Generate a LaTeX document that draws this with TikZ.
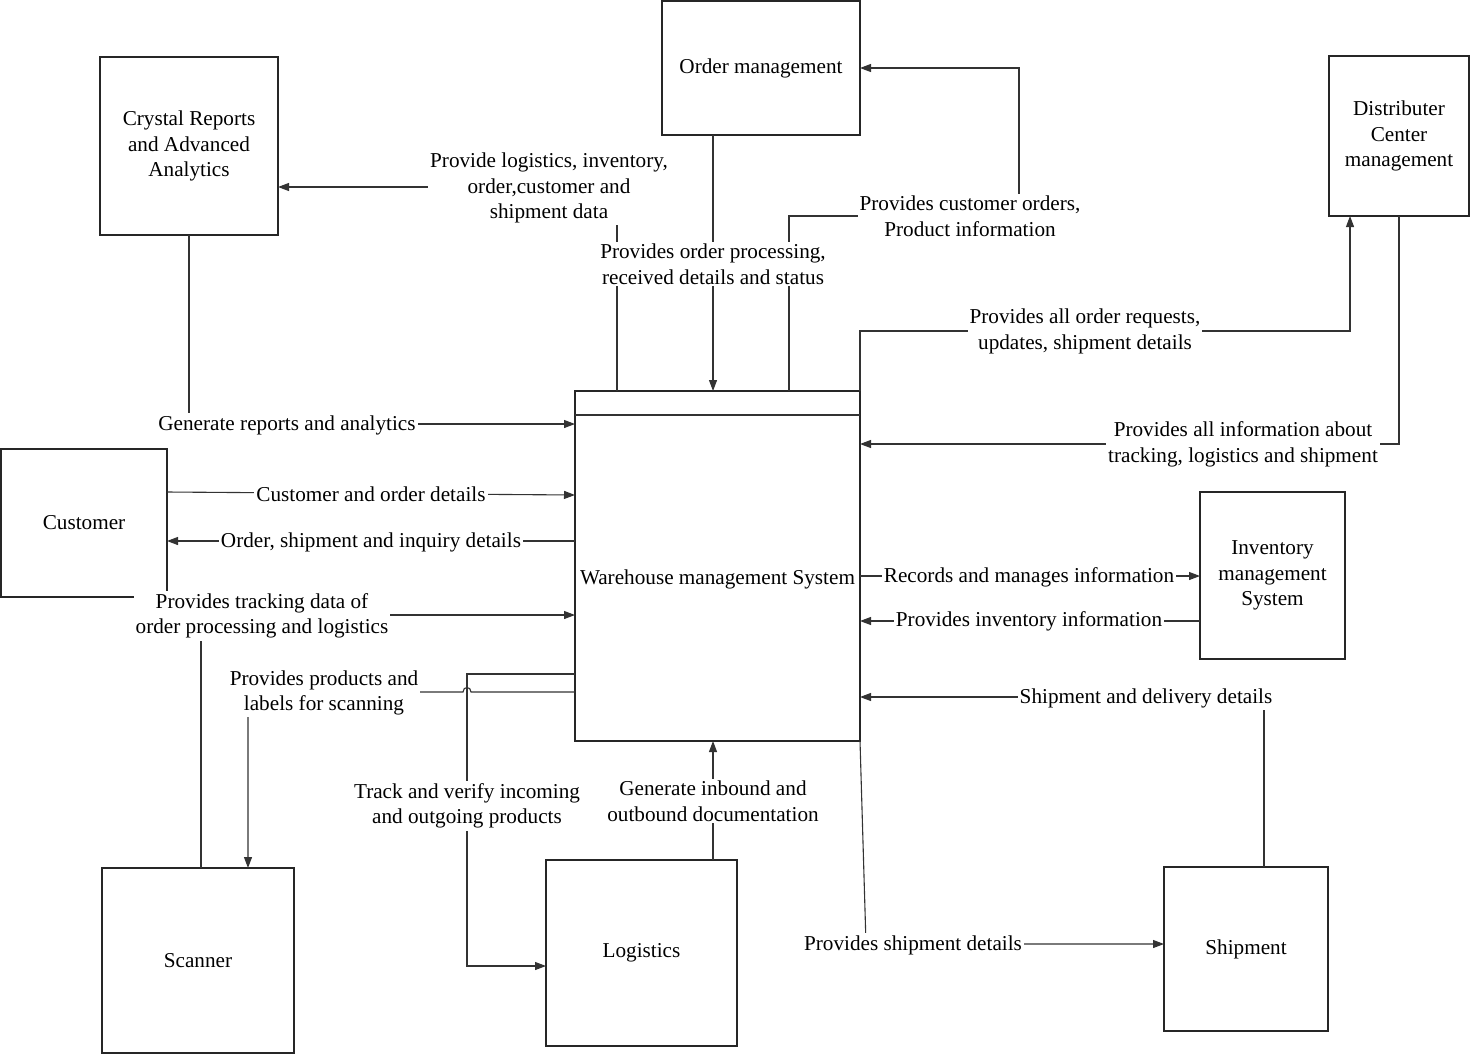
\documentclass[tikz,border=0pt]{standalone}
\usepackage{fontspec}
\setmainfont{Liberation Serif}
\usetikzlibrary{arrows.meta,calc}
\begin{document}
\begin{tikzpicture}[x=0.5pt,y=-0.5pt,
  font=\rmfamily\fontsize{10.6pt}{12.8pt}\selectfont,
  box/.style={draw=black!85, line width=0.55pt, inner sep=0pt, outer sep=0pt, align=center, fill=white},
  flow/.style={draw=black!80, line width=0.55pt},
  arr/.style={flow, -{Triangle[length=5.5pt,width=4pt]}},
  lbl/.style={fill=white, inner sep=1pt, align=center}]
\useasboundingbox (0,0) rectangle (1470,1055);

% ---- entities ----
\node[box, minimum width=89pt, minimum height=89pt] (cr) at (189,146) {Crystal Reports\\and Advanced\\Analytics};
\node[box, minimum width=99pt, minimum height=67pt] (om) at (761,68) {Order management};
\node[box, minimum width=70pt, minimum height=80pt] (dc) at (1399,136) {Distributer\\Center\\management};
\node[box, minimum width=83pt, minimum height=74pt] (cu) at (84,523) {Customer};
\node[box, minimum width=142.5pt, minimum height=175pt] (wms) at (717.5,566) {};
\node (wmstext) at (717.5,579) {Warehouse management System};
\draw[flow] ($(wms.north west)+(0,24)$) -- ($(wms.north east)+(0,24)$);
\node[box, minimum width=72.5pt, minimum height=83.5pt] (inv) at (1272.5,575.5) {Inventory\\management\\System};
\node[box, minimum width=96pt, minimum height=92.5pt] (sc) at (198,960.5) {Scanner};
\node[box, minimum width=95.5pt, minimum height=93pt] (lg) at (641.5,953) {Logistics};
\node[box, minimum width=82pt, minimum height=82pt] (sh) at (1246,949) {Shipment};

% ---- helper coordinates ----
\coordinate (w1) at ($(wms.north west)+(42,0)$);
\coordinate (o2) at ($(om.south west)+(51,0)$);
\coordinate (w3) at ($(wms.north west)+(214,0)$);
\coordinate (c6) at ($(wms.north west)+(0,150)$);
\coordinate (tv) at ($(wms.north west)+(-108,283)$);
\coordinate (h8) at ($(wms.north west)+(0,301)$);
\coordinate (x8) at (tv |- h8);
\coordinate (s8) at ($(sc.north west)+(146,0)$);
\coordinate (g10) at ($(lg.north west)+(167,0)$);
\coordinate (s12) at ($(sh.north west)+(100,0)$);
\coordinate (r13) at ($(wms.north east)+(0,185)$);
\coordinate (r14) at ($(inv.north west)+(0,129)$);

% ---- data flows ----
\draw[arr] (w1) -- (w1 |- 0,187) -- ($(cr.north east)+(0,130)$);
\draw[arr] (o2) -- (o2 |- wms.north);
\draw[arr] (w3) -- ++(0,-175) -- ++(230,0) |- (om.east);
\draw[arr] (cr.south) |- ($(wms.north west)+(0,33)$);
\draw[arr] ($(cu.north east)+(0,43)$) -- ($(wms.north west)+(0,104)$);
\draw[arr] (c6) -- (c6 -| cu.east);
\draw[arr] ($(sc.north west)+(99,0)$) |- ($(wms.north west)+(0,224)$);
\draw[arr] (h8) -- ($(x8)+(4,0)$) .. controls ($(x8)+(4,-6)$) and ($(x8)+(-4,-6)$) .. ($(x8)+(-4,0)$) -- (s8 |- h8) -- (s8);
\draw[arr] ($(wms.north west)+(0,283)$) -- (tv) |- ($(lg.north west)+(0,106)$);
\draw[arr] (g10) -- (g10 |- wms.south);
\draw[arr] (wms.south east) -- ($(sh.north west)+(-298,77)$) -- ($(sh.north west)+(0,77)$);
\draw[arr] (s12) |- ($(wms.north east)+(0,306)$);
\draw[arr] (r13) -- (r13 -| inv.west);
\draw[arr] (r14) -- (r14 -| wms.east);
\draw[arr] (wms.north east) -- ++(0,-60) -| ($(dc.south west)+(21,0)$);
\draw[arr] (dc.south) |- ($(wms.north east)+(0,53)$);

% ---- flow labels ----
\node[lbl] (l1) at (549,188) {Provide logistics, inventory,\\order,customer and\\shipment data};
\node[lbl] (l2) at (713,264) {Provides order processing,\\received details and status};
\node[lbl] (l3) at (970,216.5) {Provides customer orders,\\Product information};
\node[lbl] (l4) at (287,425) {Generate reports and analytics};
\node[lbl] (l5) at (371,494) {Customer and order details};
\node[lbl] (l6) at (371,542) {Order, shipment and inquiry details};
\node[lbl] (l7) at (262,616) {Provides tracking data of\\order processing and logistics};
\node[lbl] (l8) at (324,693) {Provides products and\\labels for scanning};
\node[lbl] (l9) at (467,806) {Track and verify incoming\\and outgoing products};
\node[lbl] (l10) at (713,801) {Generate inbound and\\outbound documentation};
\node[lbl] (l11) at (913,945) {Provides shipment details};
\node[lbl] (l12) at (1146,698) {Shipment and delivery details};
\node[lbl] (l13) at (1029,577) {Records and manages information};
\node[lbl] (l14) at (1029,621) {Provides inventory information};
\node[lbl] (l15) at (1085,331.5) {Provides all order requests,\\updates, shipment details};
\node[lbl] (l16) at (1243,444.5) {Provides all information about\\tracking, logistics and shipment};
\end{tikzpicture}
\end{document}
